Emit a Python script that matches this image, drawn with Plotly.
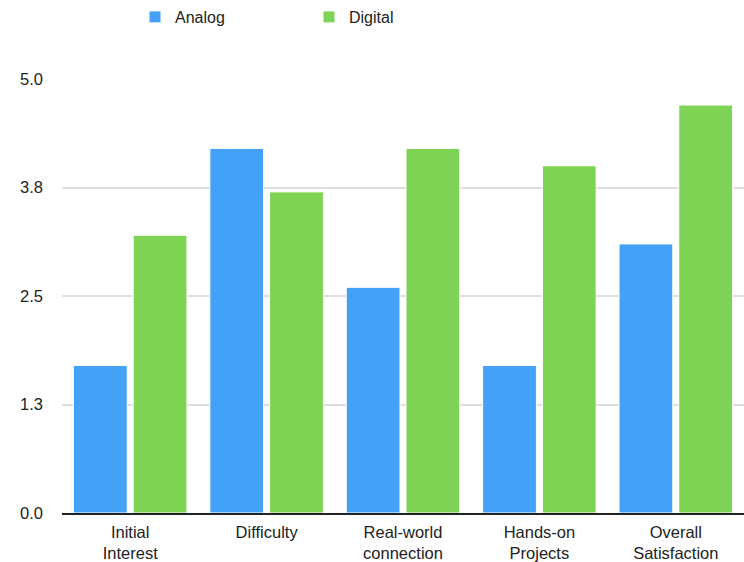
import plotly.graph_objects as go

categories = ["Initial<br>Interest", "Difficulty", "Real-world<br>connection", "Hands-on<br>Projects", "Overall<br>Satisfaction"]
analog = [1.7, 4.2, 2.6, 1.7, 3.1]
digital = [3.2, 3.7, 4.2, 4.0, 4.7]
tick_vals = [0, 1.25, 2.5, 3.75, 5]
tick_text = ["0.0", "1.3", "2.5", "3.8", "5.0"]

fig = go.Figure()
fig.add_trace(go.Bar(name="Analog", x=categories, y=analog,
                     marker=dict(color="#43A1F8", line=dict(color="white", width=1))))
fig.add_trace(go.Bar(name="Digital", x=categories, y=digital,
                     marker=dict(color="#7FD354", line=dict(color="white", width=1))))

fig.update_layout(
    width=744, height=562,
    margin=dict(l=62, r=0, t=79, b=47),
    paper_bgcolor="white", plot_bgcolor="white",
    font=dict(family="Liberation Sans, Arial, sans-serif", size=14, color="#222"),
    barmode="group", bargap=0.124, bargroupgap=0.1,
    showlegend=True,
    legend=dict(orientation="h", xref="container", yref="container",
                x=135/744, xanchor="left", y=1.0, yanchor="top",
                entrywidth=129, font=dict(size=16, color="#222"),
                bgcolor="rgba(0,0,0,0)"),
    xaxis=dict(showgrid=False, showline=True, linecolor="#222", linewidth=2,
               ticks="", tickfont=dict(size=16.5, color="#222"),
               ticklabelstandoff=3),
    yaxis=dict(range=[0, 5], tickvals=tick_vals, ticktext=tick_text,
               showgrid=True, gridcolor="#dedede", gridwidth=1.5,
               zeroline=False, showline=False, ticks="",
               tickfont=dict(size=16.5, color="#222"), ticklabelstandoff=18),
)
fig.write_html("out.html")
